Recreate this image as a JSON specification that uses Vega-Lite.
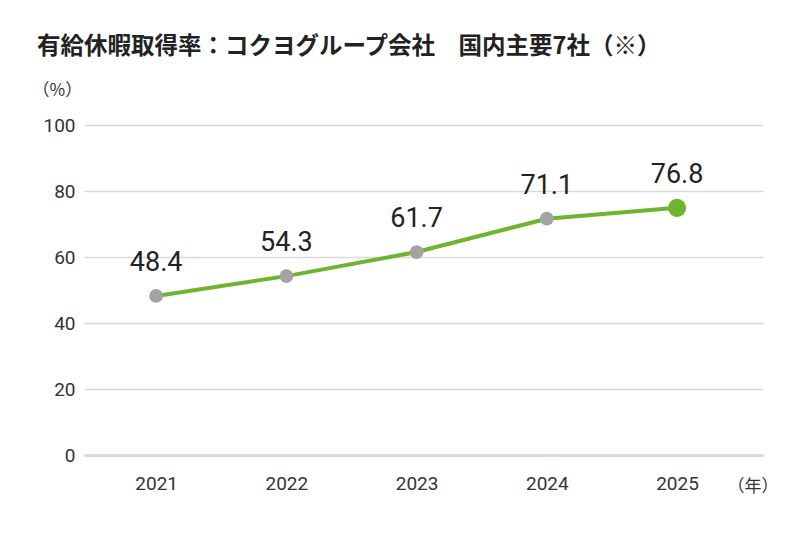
{
  "$schema": "https://vega.github.io/schema/vega-lite/v6.json",
  "width": 679,
  "height": 330,
  "autosize": "none",
  "padding": {"left": 84, "top": 125, "right": 37, "bottom": 79},
  "background": "white",
  "config": {"view": {"stroke": null}, "font": "Roboto"},
  "title": {
    "text": "有給休暇取得率：コクヨグループ会社　国内主要7社（※）",
    "font": "Noto Sans CJK JP",
    "fontWeight": "bold",
    "fontSize": 23.5,
    "color": "#222222",
    "anchor": "start",
    "frame": "group",
    "dx": -47,
    "offset": 4,
    "baseline": "alphabetic"
  },
  "data": {
    "values": [
      {"year": 2021, "value": 48.2, "label": "48.4"},
      {"year": 2022, "value": 54.2, "label": "54.3"},
      {"year": 2023, "value": 61.5, "label": "61.7"},
      {"year": 2024, "value": 71.6, "label": "71.1"},
      {"year": 2025, "value": 74.9, "label": "76.8"}
    ]
  },
  "encoding": {
    "x": {
      "field": "year",
      "type": "quantitative",
      "scale": {"domain": [2020.446, 2025.66], "nice": false, "zero": false},
      "axis": {
        "values": [2021, 2022, 2023, 2024, 2025],
        "format": "d",
        "grid": false,
        "ticks": false,
        "domainColor": "#d9d9d9",
        "domainWidth": 3,
        "labelFontSize": 19,
        "labelColor": "#333333",
        "labelPadding": 19,
        "title": "（年）",
        "titleFont": "Noto Sans CJK JP",
        "titleFontWeight": "normal",
        "titleFontSize": 17,
        "titleColor": "#333333",
        "titleAngle": 0,
        "titleAlign": "left",
        "titleBaseline": "alphabetic",
        "titleX": 643,
        "titleY": 36
      }
    },
    "y": {
      "field": "value",
      "type": "quantitative",
      "scale": {"domain": [0, 100], "nice": false},
      "axis": {
        "values": [0, 20, 40, 60, 80, 100],
        "domain": false,
        "ticks": false,
        "gridColor": "#d9d9d9",
        "gridWidth": 1.5,
        "labelFontSize": 19,
        "labelColor": "#333333",
        "labelPadding": 9,
        "title": "（%）",
        "titleFont": "Noto Sans CJK JP",
        "titleFontWeight": "normal",
        "titleFontSize": 17,
        "titleColor": "#333333",
        "titleAngle": 0,
        "titleAlign": "left",
        "titleBaseline": "alphabetic",
        "titleX": -52,
        "titleY": -30
      }
    }
  },
  "layer": [
    {"mark": {"type": "line", "color": "#6db52e", "strokeWidth": 4}},
    {
      "mark": {"type": "circle", "opacity": 1},
      "encoding": {
        "color": {"condition": {"test": "datum.year === 2025", "value": "#6db52e"}, "value": "#a3a3a3"},
        "size": {"condition": {"test": "datum.year === 2025", "value": 330}, "value": 190}
      }
    },
    {
      "mark": {"type": "text", "fontSize": 27, "color": "#222222", "baseline": "alphabetic", "dy": -25},
      "encoding": {"text": {"field": "label"}}
    }
  ]
}
